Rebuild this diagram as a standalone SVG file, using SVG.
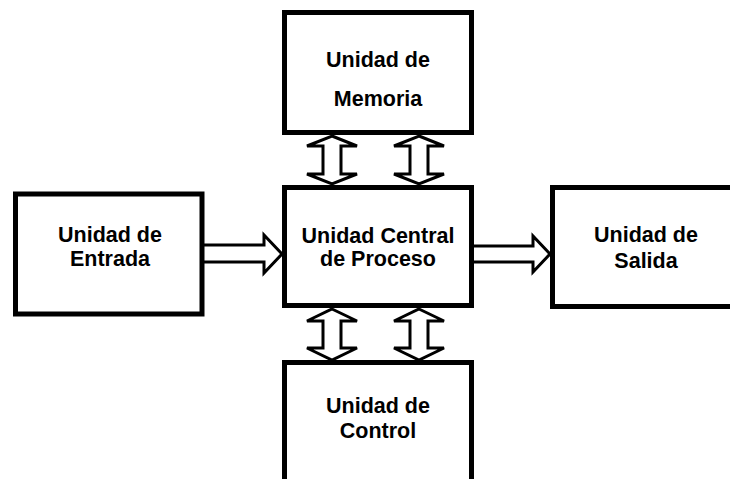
<svg xmlns="http://www.w3.org/2000/svg" width="730" height="479" viewBox="0 0 730 479">
<style>
.box{fill:#fff;stroke:#000;stroke-width:5}
.arr{fill:#fff;stroke:#000;stroke-width:3;stroke-linejoin:miter}
.t{font-family:"Liberation Sans",Arial,sans-serif;font-weight:bold;font-size:21.5px;fill:#000;text-anchor:middle}
</style>
<rect x="0" y="0" width="730" height="479" fill="#fff"/>
<g id="connectors">
<path class="arr" d="M332,136 L357,146 L341,146 L341,174 L357,174 L332,184 L307,174 L323,174 L323,146 L307,146 Z"/>
<path class="arr" d="M419,136 L444,146 L428,146 L428,174 L444,174 L419,184 L394,174 L410,174 L410,146 L394,146 Z"/>
<path class="arr" d="M332,309 L357,321 L341,321 L341,348 L357,348 L332,360 L307,348 L323,348 L323,321 L307,321 Z"/>
<path class="arr" d="M419,309 L444,321 L428,321 L428,348 L444,348 L419,360 L394,348 L410,348 L410,321 L394,321 Z"/>
<path class="arr" d="M204,245 L264,245 L264,235 L282,254 L264,273 L264,262 L204,262"/>
<path class="arr" d="M473,246 L533,246 L533,236 L550,254 L533,272 L533,262 L473,262"/>
</g>
<g id="memoria">
<rect class="box" x="284.5" y="12.5" width="187" height="120"/>
<text class="t" x="378" y="67">Unidad de</text>
<text class="t" x="378" y="106">Memoria</text>
</g>
<g id="entrada">
<rect class="box" x="15.5" y="194" width="186.5" height="120"/>
<text class="t" x="110" y="242">Unidad de</text>
<text class="t" x="110" y="266">Entrada</text>
</g>
<g id="cpu">
<rect class="box" x="284.5" y="187.5" width="187" height="118"/>
<text class="t" x="378" y="243">Unidad Central</text>
<text class="t" x="378" y="266">de Proceso</text>
</g>
<g id="salida">
<rect class="box" x="552.5" y="187.5" width="200" height="119"/>
<text class="t" x="646" y="242">Unidad de</text>
<text class="t" x="646" y="268">Salida</text>
</g>
<g id="control">
<rect class="box" x="284.5" y="362.5" width="187" height="140"/>
<text class="t" x="378" y="413">Unidad de</text>
<text class="t" x="378" y="438">Control</text>
</g>
</svg>
